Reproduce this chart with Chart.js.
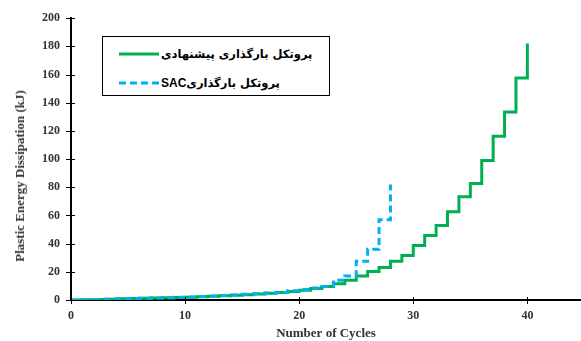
<!DOCTYPE html>
<html>
<head>
<meta charset="utf-8">
<script src="https://cdn.jsdelivr.net/npm/chart.js@4.4.1/dist/chart.umd.min.js"></script>
<style>
  html, body { margin: 0; padding: 0; background: #fff; overflow: hidden; }
  #wrap { position: relative; width: 581px; height: 341px; }
  canvas { position: absolute; left: 0; top: 0; }
  #ytitle {
    position: absolute; left: 20px; top: 176px;
    transform: translate(-50%, -50%) rotate(-90deg);
    white-space: nowrap;
    font: bold 13px "Liberation Serif", "Times New Roman", serif;
    color: #333;
  }
  #legend {
    position: absolute; left: 102px; top: 36px; width: 228px; height: 60px;
    border: 1px solid #000; background: #fff; box-sizing: border-box;
  }
  .row { position: absolute; left: 16px; height: 20px; display: flex; align-items: center; }
  .row svg { flex: none; }
  .row span {
    margin-left: 2px; white-space: nowrap;
    font: bold 11.5px "DejaVu Sans", sans-serif; color: #000;
  }
  .row span b { font: bold 12px "Liberation Sans", Arial, sans-serif; }
</style>
</head>
<body>
<div id="wrap">
  <canvas id="c" width="581" height="341"></canvas>
  <div id="ytitle">Plastic Energy Dissipation (kJ)</div>
  <div id="legend">
    <div class="row" style="top:7px">
      <svg width="40" height="6"><line x1="0" y1="3" x2="40" y2="3" stroke="#00b050" stroke-width="3"/></svg>
      <span dir="rtl">پروتکل بارگذاری پیشنهادی</span>
    </div>
    <div class="row" style="top:36px">
      <svg width="40" height="6"><line x1="0" y1="3" x2="40" y2="3" stroke="#00b0f0" stroke-width="3" stroke-dasharray="7,4"/></svg>
      <span dir="rtl">پروتکل بارگذاری<b>SAC</b></span>
    </div>
  </div>
</div>
<script>
// ---- data ----
const proposedCycles = [0,1,2,3,4,5,6,7,8,9,10,11,12,13,14,15,16,17,18,19,20,21,22,23,24,25,26,27,28,29,30,31,32,33,34,35,36,37,38,39,40];
const proposedEnergy = [0,0.2,0.4,0.6,0.8,1.0,1.2,1.4,1.6,1.8,2.0,2.3,2.6,3.0,3.4,3.8,4.3,4.8,5.3,6.0,7.0,8.2,9.5,11.5,14,17,20.3,23,27.5,31.5,38.7,45.8,52.8,62.7,73.2,82.6,99,116.2,133.5,157.5,182];
const sacCycles = [0,1,2,3,4,5,6,7,8,9,10,11,12,13,14,15,16,17,18,19,20,21,22,23,24,25,26,27,28];
const sacEnergy = [0,0.2,0.4,0.6,0.8,1.0,1.2,1.4,1.6,1.9,2.2,2.5,2.8,3.2,3.6,4.0,4.4,4.9,5.4,6.5,7.5,8.5,9.5,14,17,27.5,36,57,82];
const xTicks = [0,10,20,30,40];
const yTicks = [0,20,40,60,80,100,120,140,160,180,200];

const tickFont = { family: '"Liberation Serif", "Times New Roman", serif', size: 12, weight: 'bold' };

const crossTicks = {
  id: 'crossTicks',
  afterDraw(chart) {
    const { ctx, scales: { x, y } } = chart;
    ctx.save();
    ctx.strokeStyle = '#000';
    ctx.lineWidth = 1;
    x.ticks.forEach(t => {
      const px = Math.round(x.getPixelForValue(t.value)) + 0.5;
      ctx.beginPath(); ctx.moveTo(px, x.top - 3); ctx.lineTo(px, x.top + 4); ctx.stroke();
    });
    y.ticks.forEach(t => {
      const py = Math.round(y.getPixelForValue(t.value)) + 0.5;
      ctx.beginPath(); ctx.moveTo(y.right - 5, py); ctx.lineTo(y.right + 4, py); ctx.stroke();
    });
    ctx.restore();
  }
};

new Chart(document.getElementById('c'), {
  type: 'line',
  data: {
    datasets: [
      {
        label: 'پروتکل بارگذاری پیشنهادی',
        data: proposedCycles.map((c, i) => ({ x: c, y: proposedEnergy[i] })),
        borderColor: '#00b050',
        borderWidth: 3,
        pointRadius: 0,
        stepped: 'before',
        order: 2
      },
      {
        label: 'پروتکل بارگذاری SAC',
        data: sacCycles.map((c, i) => ({ x: c, y: sacEnergy[i] })),
        borderColor: '#00b0f0',
        borderWidth: 3,
        borderDash: [7, 4],
        pointRadius: 0,
        stepped: 'before',
        order: 1
      }
    ]
  },
  options: {
    responsive: false,
    animation: false,
    layout: { padding: { top: 16, right: 0, left: 0, bottom: 0 } },
    plugins: { legend: { display: false }, tooltip: { enabled: false } },
    scales: {
      x: {
        type: 'linear',
        min: 0,
        max: 44.7,
        afterBuildTicks: s => { s.ticks = xTicks.map(v => ({ value: v })); },
        afterFit: s => { s.height = 41; },
        grid: { display: false, drawTicks: false },
        border: { color: '#000', width: 2 },
        ticks: { font: tickFont, color: '#333', padding: 9 },
        title: {
          display: true, text: 'Number of Cycles',
          font: { family: '"Liberation Serif", "Times New Roman", serif', size: 13, weight: 'bold' },
          color: '#333', padding: { top: 4, bottom: 0 }
        }
      },
      y: {
        min: 0,
        max: 200,
        afterBuildTicks: s => { s.ticks = yTicks.map(v => ({ value: v })); },
        afterFit: s => { s.width = 71; },
        grid: { display: false, drawTicks: false },
        border: { color: '#000', width: 2 },
        ticks: { font: tickFont, color: '#333', padding: 11 }
      }
    }
  },
  plugins: [crossTicks]
});
</script>
</body>
</html>
